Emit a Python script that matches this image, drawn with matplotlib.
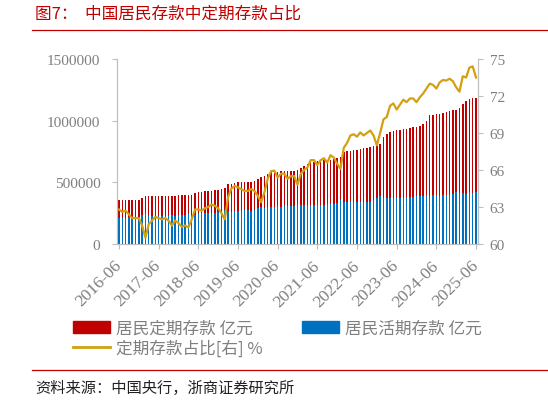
import numpy as np
import matplotlib.pyplot as plt
from matplotlib.patches import Patch
from matplotlib.lines import Line2D

plt.rcParams['font.family'] = ['Noto Sans CJK SC', 'DejaVu Sans']

# 月份 2016-06 ... 2025-06
months = [f"{2016 + (5 + i) // 12}-{(5 + i) % 12 + 1:02d}" for i in range(109)]
tick_labels = [f"{y}-06" for y in range(2016, 2026)]

# 居民定期存款 亿元
time_dep = [357000, 357000, 357000, 358000, 358000, 358000, 358000, 370000, 387000, 387000,
            387000, 388000, 388000, 389000, 389000, 390000, 390000, 392000, 397000, 397000,
            398000, 398000, 400000, 412000, 419000, 425000, 427000, 430000, 432000, 436000,
            440000, 444000, 452000, 486000, 490000, 494000, 500000, 502000, 503000, 504000,
            505000, 508000, 527000, 541000, 554000, 568000, 581000, 584000, 586000, 588000,
            590000, 592000, 593000, 594000, 600000, 614000, 635000, 649000, 662000, 666000,
            670000, 674000, 678000, 682000, 685000, 689000, 694000, 703000, 743000, 752000,
            757000, 762000, 766000, 770000, 775000, 780000, 790000, 797000, 803000, 811000,
            865000, 892000, 911000, 919000, 922000, 926000, 930000, 934000, 938000, 946000,
            952000, 959000, 973000, 1000000, 1046000, 1050000, 1054000, 1058000, 1063000,
            1068000, 1081000, 1085000, 1089000, 1100000, 1135000, 1157000, 1176000, 1180000,
            1185000, 1190000][:109]

# 居民活期存款 亿元
demand_dep = [212000, 213000, 212000, 218000, 222000, 222000, 222000, 232000, 250000, 230000,
              226000, 222000, 224000, 226000, 225000, 228000, 235000, 228000, 232000, 238000,
              237000, 240000, 232000, 235000, 243000, 248000, 250000, 250000, 250000, 252000,
              258000, 262000, 274000, 270000, 262000, 264000, 268000, 270000, 272000, 272000,
              270000, 276000, 293000, 297000, 293000, 297000, 302000, 302000, 306000, 304000,
              306000, 310000, 310000, 312000, 322000, 316000, 316000, 318000, 320000, 320000,
              328000, 320000, 318000, 328000, 322000, 326000, 335000, 357000, 338000, 338000,
              340000, 342000, 344000, 340000, 342000, 344000, 344000, 356000, 370000, 392000,
              372000, 370000, 370000, 374000, 376000, 375000, 377000, 378000, 378000, 380000,
              392000, 390000, 392000, 394000, 392000, 395000, 396000, 392000, 396000, 398000,
              397000, 405000, 424000, 414000, 413000, 408000, 418000, 415000, 424000]

# 定期存款占比[右] %
ratio = [62.8, 62.6, 62.7, 62.4, 62.1, 62.1, 62.1, 61.5, 60.5, 61.6,
         61.9, 62.2, 62.1, 62.0, 62.1, 61.9, 61.5, 61.9, 61.7, 61.4,
         61.5, 61.35, 62.0, 62.8, 62.8, 62.7, 62.9, 63.0, 63.2, 63.1,
         62.9, 62.5, 62.0, 63.8, 64.5, 64.7, 64.6, 64.45, 64.3, 64.3,
         64.45, 64.3, 63.9, 63.4, 64.2, 65.3, 65.9, 65.95, 65.4, 65.7,
         65.7, 65.3, 65.5, 65.5, 64.8, 65.7, 66.0, 66.2, 66.8, 66.8,
         66.4, 66.8, 66.95, 66.6, 67.2, 67.0, 66.5, 66.1, 67.8, 68.2,
         68.8, 68.9, 68.7, 69.05, 68.8, 69.0, 69.2, 68.8, 68.0, 69.0,
         70.1, 70.3, 71.2, 71.4, 70.9, 71.3, 71.7, 71.5, 71.8, 71.8,
         71.5, 71.9, 72.2, 72.6, 73.0, 72.9, 72.6, 73.1, 73.3, 73.25,
         73.4, 73.2, 72.7, 72.35, 73.6, 73.5, 74.3, 74.4, 73.5]

RED = '#C00000'
BLUE = '#0070C0'
GOLD = '#D4A010'
GREY = '#7F7F7F'
SPINE = '#BFBFBF'

fig = plt.figure(figsize=(5.48, 4.02), dpi=100)
ax = fig.add_axes([117 / 548, 1 - 245 / 402, 361 / 548, 185 / 402])
ax2 = ax.twinx()

x = np.arange(len(months))
ax.bar(x, time_dep, width=0.45, color=RED, zorder=2)
ax.bar(x, demand_dep, width=0.45, color=BLUE, zorder=3)
ax2.plot(x, ratio, color=GOLD, lw=1.6, zorder=4)

ax.set_xlim(-0.6, 108.6)
ax.set_ylim(0, 1500000)
ax.set_yticks([0, 500000, 1000000, 1500000])
ax.set_yticklabels(['0', '500000', '1000000', '1500000'])
ax2.set_ylim(60, 75)
ax2.set_yticks([60, 63, 66, 69, 72, 75])

ax.set_xticks([months.index(t) for t in tick_labels])
ax.set_xticklabels(tick_labels, rotation=45, ha='right', va='center',
                   rotation_mode='anchor')

for a in (ax, ax2):
    a.spines['top'].set_visible(False)
    for s in ('left', 'right', 'bottom'):
        a.spines[s].set_color(SPINE)
    a.tick_params(colors=SPINE, labelcolor=GREY, length=3.5, width=0.8)
    for lab in a.get_yticklabels():
        lab.set_fontfamily('Liberation Serif')
        lab.set_fontsize(11)
for lab in ax.get_xticklabels():
    lab.set_fontfamily('Liberation Serif')
    lab.set_fontsize(12.5)
ax.tick_params(axis='y', pad=8.5)
ax2.tick_params(axis='y', pad=5)
ax.tick_params(axis='x', pad=10)
ax2.set_zorder(ax.get_zorder() + 1)
ax2.patch.set_visible(False)

# 图例
handles = [Patch(color=RED), Line2D([], [], color=GOLD, lw=2), Patch(color=BLUE)]
labels = ['居民定期存款 亿元', '定期存款占比[右] %', '居民活期存款 亿元']
leg = fig.legend(handles, labels, ncol=2, loc='upper left',
                 bbox_to_anchor=(58 / 548, 1 - 306 / 402), frameon=False,
                 fontsize=12, handlelength=2.2, handletextpad=0.35,
                 columnspacing=2.4, labelspacing=0.15)
for t in leg.get_texts():
    t.set_color(GREY)

# 标题与来源
fig.text(35 / 548, 1 - 14 / 402, '图7：  中国居民存款中定期存款占比', color=RED,
         fontsize=12, va='center', ha='left')
fig.add_artist(Line2D([32 / 548, 1], [1 - 31 / 402] * 2, color=RED, lw=0.9))
fig.add_artist(Line2D([32 / 548, 1], [1 - 371 / 402] * 2, color=RED, lw=0.9))
fig.text(35 / 548, 1 - 388 / 402, '资料来源：中国央行，浙商证券研究所', color='#222222',
         fontsize=11, va='center', ha='left')

fig.savefig('out.png', dpi=100)
